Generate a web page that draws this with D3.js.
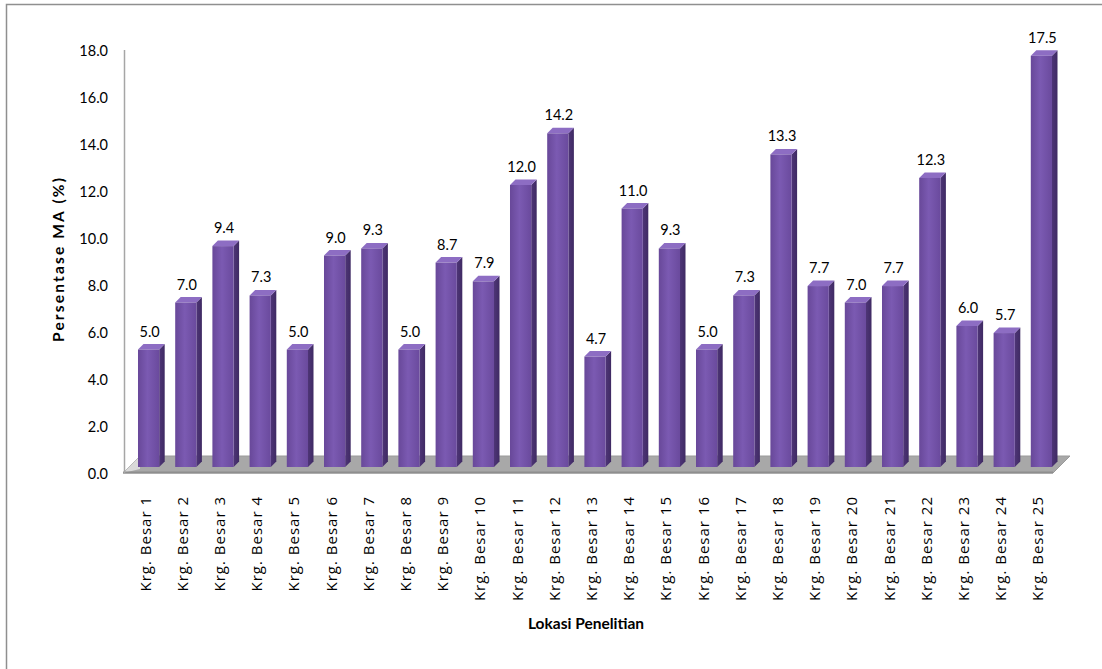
<!DOCTYPE html>
<html>
<head>
<meta charset="utf-8">
<script src="https://cdn.jsdelivr.net/npm/d3@7"></script>
<style>
  html, body { margin: 0; padding: 0; background: #fff; }
  svg { display: block; }
</style>
</head>
<body>
<svg id="chart" width="1102" height="669"></svg>
<script>
// Persentase MA per lokasi penelitian
const categories = [
  "Krg. Besar 1", "Krg. Besar 2", "Krg. Besar 3", "Krg. Besar 4", "Krg. Besar 5",
  "Krg. Besar 6", "Krg. Besar 7", "Krg. Besar 8", "Krg. Besar 9", "Krg. Besar 10",
  "Krg. Besar 11", "Krg. Besar 12", "Krg. Besar 13", "Krg. Besar 14", "Krg. Besar 15",
  "Krg. Besar 16", "Krg. Besar 17", "Krg. Besar 18", "Krg. Besar 19", "Krg. Besar 20",
  "Krg. Besar 21", "Krg. Besar 22", "Krg. Besar 23", "Krg. Besar 24", "Krg. Besar 25"
];
const values = [
  5.0, 7.0, 9.4, 7.3, 5.0, 9.0, 9.3, 5.0, 8.7, 7.9,
  12.0, 14.2, 4.7, 11.0, 9.3, 5.0, 7.3, 13.3, 7.7, 7.0,
  7.7, 12.3, 6.0, 5.7, 17.5
];
const yTicks = [0, 2, 4, 6, 8, 10, 12, 14, 16, 18];
const yTitle = "Persentase MA  (%)";
const xTitle = "Lokasi Penelitian";

const svg = d3.select("#chart");

// plot geometry
const floorFront = 473, floorDepthX = 17, floorDepthY = 17;
const barShiftX = 7, barShiftY = 6;   // columns stand in the middle of the floor depth
const side = 5.5;                     // 3D depth of each column

const y = d3.scaleLinear().domain([0, 18]).range([floorFront, 50]);
const x = d3.scaleBand().domain(categories).range([123, 1053])
  .paddingInner(0.43).paddingOuter(0.215);

// gradients
const defs = svg.append("defs");
const gFront = defs.append("linearGradient").attr("id", "gFront")
  .attr("x1", "0%").attr("x2", "100%").attr("y1", "0%").attr("y2", "0%");
gFront.append("stop").attr("offset", "0%").attr("stop-color", "#684899");
gFront.append("stop").attr("offset", "45%").attr("stop-color", "#7b5ab2");
gFront.append("stop").attr("offset", "100%").attr("stop-color", "#6a4a9d");
const gSide = defs.append("linearGradient").attr("id", "gSide")
  .attr("x1", "0%").attr("x2", "100%");
gSide.append("stop").attr("offset", "0%").attr("stop-color", "#4e3577");
gSide.append("stop").attr("offset", "100%").attr("stop-color", "#3f2a63");

// chart frame
svg.append("rect")
  .attr("x", 6.5).attr("y", 4.5).attr("width", 1200).attr("height", 800)
  .attr("fill", "none").attr("stroke", "#8f8f8f").attr("stroke-width", 1.5);

// floor
const fx0 = x.range()[0], fx1 = x.range()[1];
svg.append("polygon")
  .attr("points", [
    [fx0, floorFront], [fx1, floorFront],
    [fx1 + floorDepthX, floorFront - floorDepthY], [fx0 + floorDepthX, floorFront - floorDepthY]
  ].map(p => p.join(",")).join(" "))
  .attr("fill", "#a8a8a8").attr("stroke", "#9a9a9a").attr("stroke-width", 1);
svg.append("polygon")
  .attr("points", [
    [fx0, floorFront], [fx0 + floorDepthX, floorFront - floorDepthY], [fx0 + floorDepthX, floorFront - 4]
  ].map(p => p.join(",")).join(" "))
  .attr("fill", "#d9d9d9");
svg.append("line")
  .attr("x1", fx0).attr("x2", fx1).attr("y1", floorFront - 0.5).attr("y2", floorFront - 0.5)
  .attr("stroke", "#8e8e8e").attr("stroke-width", 2);

// value axis line
svg.append("line")
  .attr("x1", 124.5).attr("x2", 124.5).attr("y1", y(18)).attr("y2", floorFront)
  .attr("stroke", "#a6a6a6").attr("stroke-width", 1.5);

// value axis labels
svg.append("g").selectAll("text").data(yTicks).join("text")
  .attr("x", 108).attr("y", d => y(d))
  .attr("text-anchor", "end").attr("dominant-baseline", "central")
  .attr("font-family", "Lato, 'Open Sans', sans-serif").attr("font-size", 14.5)
  .attr("fill", "#000")
  .text(d => d3.format(".1f")(d));

// columns
const bars = svg.append("g").selectAll("g").data(values).join("g");
const bx = (d, i) => x(categories[i]) + barShiftX;
const bw = x.bandwidth();
const base = floorFront - barShiftY;
const barTop = d => y(d) - barShiftY;

bars.append("path")   // side face
  .attr("d", (d, i) => {
    const r = bx(d, i) + bw;
    return `M${r},${barTop(d)} L${r + side},${barTop(d) - side} L${r + side},${base - side} L${r},${base} Z`;
  })
  .attr("fill", "url(#gSide)");
bars.append("path")   // top face
  .attr("d", (d, i) => {
    const l = bx(d, i);
    return `M${l},${barTop(d)} L${l + side},${barTop(d) - side} L${l + bw + side},${barTop(d) - side} L${l + bw},${barTop(d)} Z`;
  })
  .attr("fill", "#8d6dc3");
bars.append("rect")   // front face
  .attr("x", (d, i) => bx(d, i)).attr("y", d => barTop(d))
  .attr("width", bw).attr("height", d => base - barTop(d))
  .attr("fill", "url(#gFront)");

// value labels
svg.append("g").selectAll("text").data(values).join("text")
  .attr("x", (d, i) => bx(d, i) + bw / 2 + 1)
  .attr("y", d => barTop(d) - 13)
  .attr("text-anchor", "middle")
  .attr("font-family", "Lato, 'Open Sans', sans-serif").attr("font-size", 14.5)
  .attr("fill", "#000")
  .text(d => d3.format(".1f")(d));

// category labels
svg.append("g").selectAll("text").data(categories).join("text")
  .attr("transform", d => `translate(${x(d) + x.bandwidth() / 2 + 3},496) rotate(-90)`)
  .attr("text-anchor", "end").attr("dominant-baseline", "central")
  .attr("font-family", "'Open Sans', sans-serif").attr("font-size", 15)
  .attr("letter-spacing", 1.0)
  .attr("fill", "#000")
  .text(d => d);

// axis titles
svg.append("text")
  .attr("transform", "translate(58,260) rotate(-90)")
  .attr("text-anchor", "middle").attr("dominant-baseline", "central")
  .attr("font-family", "Lato, 'Open Sans', sans-serif").attr("font-size", 15.5)
  .attr("font-weight", "bold")
  .attr("textLength", 164).attr("lengthAdjust", "spacing")
  .text(yTitle);
svg.append("text")
  .attr("x", 586).attr("y", 629)
  .attr("text-anchor", "middle")
  .attr("font-family", "Lato, 'Open Sans', sans-serif").attr("font-size", 15.5)
  .attr("font-weight", "bold")
  .text(xTitle);
</script>
</body>
</html>
